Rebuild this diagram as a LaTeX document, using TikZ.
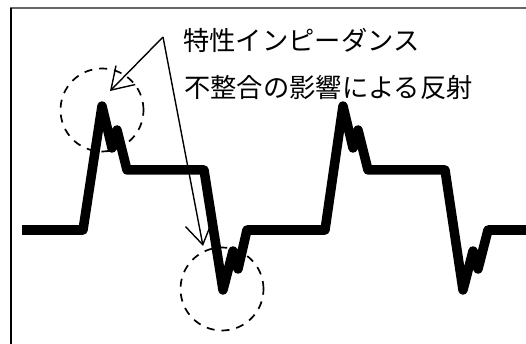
\documentclass[tikz,border=0pt]{standalone}
\usepackage{fontspec}
\newfontfamily\jpfont{Noto Sans CJK JP}
\usetikzlibrary{arrows.meta}
\tikzset{
  wave/.style={line width=9.5pt, line join=round, black},
  thinarrow/.style={line width=1.4pt, -{Straight Barb[length=21pt,width=27pt,line width=1.4pt]}},
  dashcircle/.style={circle, draw, dash pattern=on 8pt off 7pt, line width=1.7pt, minimum size=83pt, inner sep=0pt},
  label/.style={anchor=west, inner sep=0pt, font=\jpfont\fontsize{26.3}{30}\selectfont}
}
\begin{document}
\begin{tikzpicture}[x=1pt,y=-1pt]
\useasboundingbox (0,0) rectangle (526,344);
% frame
\draw[line width=2pt, gray!80!black] (10,8) -- (526,8);
\draw[line width=1.5pt, black] (11,8) -- (11,344);
% dashed circles
\node[dashcircle] (c1) at (102,110) {};
\node[dashcircle] (c2) at (222,289) {};
% waveform
\draw[wave] (22,230) -- (83,230) -- (102,106) -- (112,148) -- (117,130) -- (127,170) -- (204,170) -- (223,290) -- (233,251) -- (238,269) -- (247,230) -- (325,230) -- (343,106) -- (353,148) -- (358,130) -- (368,170) -- (445,170) -- (463,290) -- (473,251) -- (478,269) -- (488,230) -- (526,230);
% labels
\node[label] (t1) at (183,40) {特性インピーダンス};
\node[label] (t2) at (184,88) {不整合の影響による反射};
% arrows
\coordinate (apex) at (163,37);
\coordinate (tip1) at (110,91);
\coordinate (tip2) at (203,246);
\draw[thinarrow] (apex) -- (tip1);
\draw[thinarrow] (apex) -- (tip2);
\end{tikzpicture}
\end{document}
